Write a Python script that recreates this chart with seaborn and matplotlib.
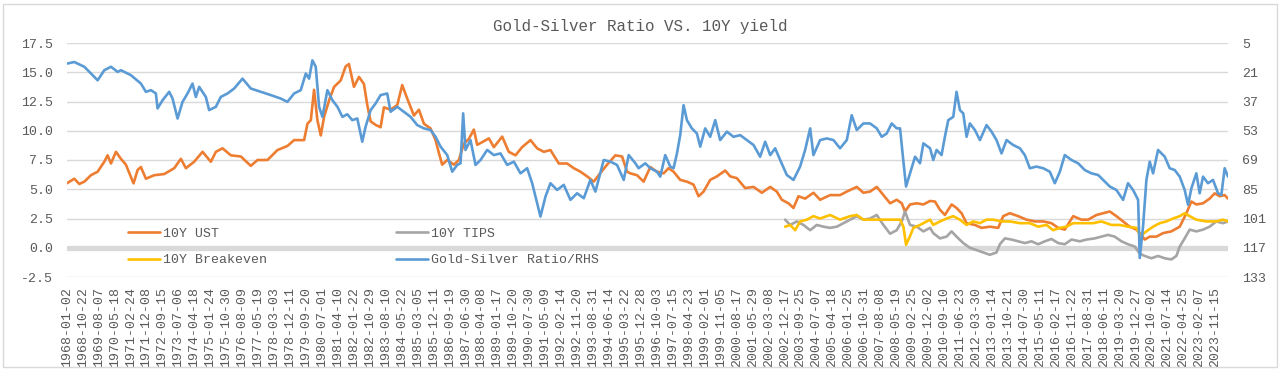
import numpy as np
import matplotlib
matplotlib.use("Agg")
import matplotlib.pyplot as plt
from matplotlib.lines import Line2D
from matplotlib.patches import Rectangle
from matplotlib.ticker import FormatStrFormatter
import seaborn as sns

# =====================================================================
# Data (x = trading-day row number)
# =====================================================================
date_labels = [
    "1968-01-02", "1968-10-22", "1969-08-07", "1970-05-18", "1971-02-24", "1971-12-08",
    "1972-09-15", "1973-07-06", "1974-04-18", "1975-01-24", "1975-10-30", "1976-08-09",
    "1977-05-19", "1978-03-03", "1978-12-11", "1979-09-20", "1980-07-01", "1981-04-10",
    "1982-01-22", "1982-10-29", "1983-08-10", "1984-05-22", "1985-03-05", "1985-12-11",
    "1986-09-19", "1987-06-30", "1988-04-08", "1989-01-17", "1989-10-20", "1990-07-30",
    "1991-05-09", "1992-02-14", "1992-11-20", "1993-08-31", "1994-06-14", "1995-03-22",
    "1995-12-28", "1996-10-03", "1997-07-15", "1998-04-23", "1999-02-01", "1999-11-05",
    "2000-08-17", "2001-05-29", "2002-03-08", "2002-12-17", "2003-09-25", "2004-07-07",
    "2005-04-18", "2006-01-25", "2006-10-31", "2007-08-08", "2008-05-19", "2009-02-25",
    "2009-12-02", "2010-09-10", "2011-06-23", "2012-03-30", "2013-01-14", "2013-10-21",
    "2014-07-30", "2015-05-11", "2016-02-17", "2016-11-22", "2017-08-31", "2018-06-11",
    "2019-03-20", "2019-12-27", "2020-10-02", "2021-07-14", "2022-04-25", "2023-02-07",
    "2023-11-15",
]
label_step = 200  # one date label every 200 rows

ust_row = [0, 95, 158, 221, 304, 388, 471, 513, 555, 617, 680, 742, 784, 838, 889, 930, 993,
           1097, 1223, 1348, 1431, 1494, 1598, 1703, 1807, 1870, 1953, 2058, 2183, 2308, 2392,
           2517, 2642, 2767, 2851, 2976, 3018, 3060, 3101, 3143, 3185, 3227, 3289, 3352, 3435,
           3497, 3538, 3601, 3664, 3726, 3768, 3810, 3872, 3935, 3977, 4060, 4144, 4206, 4269,
           4353, 4415, 4478, 4561, 4624, 4666, 4707, 4770, 4854, 4916, 4979, 5041, 5104, 5146,
           5229, 5292, 5355, 5459, 5542, 5626, 5709, 5814, 5897, 5981, 6064, 6169, 6273, 6357,
           6440, 6524, 6607, 6691, 6774, 6878, 6962, 7025, 7065, 7149, 7232, 7316, 7399, 7483,
           7545, 7608, 7691, 7775, 7858, 7921, 7984, 8067, 8151, 8255, 8318, 8401, 8505, 8610,
           8714, 8819, 8902, 8965, 9048, 9111, 9173, 9257, 9361, 9445, 9570, 9695, 9779, 9904,
           9988, 10071, 10155, 10238, 10322, 10405, 10468, 10509, 10572, 10656, 10739, 10823,
           10884, 10947, 11009, 11093, 11155, 11218, 11281, 11385, 11468, 11573, 11677, 11740,
           11823, 11928, 12032, 12136, 12241, 12345, 12429, 12512, 12617, 12721, 12804, 12909,
           12992, 13076, 13159, 13243, 13326, 13410, 13472, 13514, 13577, 13660, 13744, 13848,
           13953, 14036, 14099, 14161, 14245, 14328, 14391, 14454, 14516, 14558]
ust_val = [5.5, 5.9, 5.45, 5.65, 6.2, 6.5, 7.35, 7.9, 7.2, 8.2, 7.6, 7.1, 6.4, 5.5, 6.65, 6.9, 5.9,
           6.2, 6.3, 6.8, 7.6, 6.8, 7.35, 8.2, 7.35, 8.2, 8.5, 7.9, 7.8, 7.0, 7.5,
           7.5, 8.35, 8.7, 9.2, 9.2, 10.6, 10.9, 13.5, 10.9, 9.6, 11.2, 12.6, 13.75, 14.3,
           15.5, 15.7, 13.75, 14.6, 14.0, 12.2, 10.8, 10.5, 10.3, 12.0, 11.8, 12.2, 13.9, 12.75,
           11.3, 11.8, 10.6, 10.2, 9.2, 8.1, 7.1, 7.5, 7.1, 7.5, 8.9, 9.3, 10.1, 8.8,
           9.1, 9.35, 8.6, 9.5, 8.2, 7.9, 8.6, 9.2, 8.5, 8.2, 8.35, 7.2, 7.2, 6.8,
           6.5, 6.1, 5.65, 6.4, 7.1, 7.9, 7.8, 6.5, 6.36, 6.2, 5.65, 6.9, 6.5, 6.36,
           6.8, 6.5, 5.8, 5.65, 5.4, 4.4, 4.8, 5.8, 6.1, 6.6, 6.1, 5.95, 5.1, 5.2,
           4.7, 5.2, 4.8, 4.1, 3.8, 3.4, 4.4, 4.2, 4.7, 4.1, 4.5, 4.5, 4.8, 5.2,
           4.7, 4.8, 5.2, 4.5, 3.8, 4.1, 3.8, 3.1, 3.7, 3.8, 3.7, 4.0,
           3.95, 3.25, 2.8, 3.7, 3.4, 2.95, 2.1, 1.95, 1.7, 1.8, 1.7, 2.7,
           2.95, 2.7, 2.4, 2.25, 2.25, 2.1, 1.7, 1.55, 2.7, 2.4, 2.4, 2.8,
           2.95, 3.1, 2.7, 2.25, 1.8, 1.55, 1.1, 0.7, 0.95, 0.95, 1.25, 1.4,
           1.8, 2.95, 3.95, 3.7, 3.8, 4.2, 4.65, 4.4, 4.5, 4.2]

tips_row = [9006, 9069, 9153, 9236, 9320, 9403, 9487, 9570, 9654, 9737, 9821, 9904, 9988, 10071,
            10155, 10238, 10322, 10405, 10468, 10509, 10572, 10656, 10739, 10823, 10863, 10947,
            11030, 11093, 11155, 11239, 11322, 11406, 11489, 11573, 11656, 11698, 11761, 11844,
            11928, 12011, 12095, 12178, 12262, 12345, 12429, 12512, 12596, 12700, 12784, 12888,
            12971, 13055, 13138, 13222, 13305, 13389, 13452, 13514, 13598, 13681, 13765, 13848,
            13911, 13953, 14015, 14078, 14161, 14245, 14328, 14412, 14495, 14558]
tips_val = [2.4, 1.95, 2.25, 1.95, 1.5, 1.95, 1.8, 1.7, 1.8, 2.1, 2.4, 2.7, 2.4, 2.5,
            2.8, 1.95, 1.2, 1.5, 2.25, 3.1, 1.95, 1.8, 1.4, 1.7, 1.25, 0.8,
            0.95, 1.4, 0.95, 0.4, 0.0, -0.2, -0.4, -0.6, -0.4, 0.3, 0.8, 0.7,
            0.55, 0.4, 0.55, 0.3, 0.55, 0.75, 0.4, 0.3, 0.7, 0.55, 0.7, 0.8,
            0.95, 1.1, 0.95, 0.55, 0.3, 0.1, -0.5, -0.7, -0.9, -0.7, -0.9, -1.0,
            -0.7, 0.1, 0.8, 1.55, 1.4, 1.55, 1.8, 2.25, 2.1, 2.25]

bei_row = [9006, 9069, 9132, 9194, 9278, 9361, 9445, 9570, 9695, 9821, 9904, 9988, 10155, 10322,
           10447, 10489, 10522, 10572, 10614, 10697, 10823, 10863, 10947, 11030, 11114, 11197,
           11281, 11364, 11448, 11531, 11615, 11719, 11823, 11949, 12074, 12178, 12283, 12366,
           12450, 12533, 12617, 12742, 12867, 12971, 13097, 13201, 13305, 13410, 13460, 13535,
           13619, 13702, 13786, 13869, 13953, 14015, 14078, 14161, 14287, 14412, 14495, 14558]
bei_val = [1.8, 1.95, 1.5, 2.25, 2.4, 2.7, 2.5, 2.8, 2.4, 2.7, 2.8, 2.4, 2.4, 2.4,
           2.4, 1.8, 0.25, 1.0, 1.7, 1.95, 2.4, 1.95, 2.25, 2.5, 2.7, 2.4,
           1.95, 2.25, 2.1, 2.4, 2.4, 2.25, 2.25, 2.1, 2.1, 1.8, 1.95, 1.5,
           1.7, 1.8, 2.1, 2.1, 2.1, 2.25, 1.95, 1.95, 1.8, 1.7, 1.0, 1.4,
           1.8, 2.1, 2.25, 2.5, 2.7, 2.95, 2.7, 2.4, 2.25, 2.25, 2.4, 2.25]

gsr_row = [0, 95, 221, 304, 388, 471, 555, 638, 680, 805, 930, 993, 1056, 1118, 1139, 1202, 1285,
           1327, 1390, 1452, 1515, 1577, 1619, 1661, 1744, 1786, 1870, 1932, 2016, 2099, 2204,
           2308, 2433, 2559, 2684, 2767, 2851, 2934, 2997, 3039, 3080, 3122, 3164, 3206, 3268,
           3331, 3394, 3456, 3518, 3580, 3643, 3705, 3747, 3810, 3872, 3935, 4018, 4060, 4144,
           4227, 4311, 4394, 4478, 4561, 4624, 4687, 4770, 4833, 4895, 4937, 4970, 4999, 5062,
           5125, 5188, 5271, 5355, 5438, 5522, 5605, 5689, 5772, 5835, 5897, 5939, 6002, 6064,
           6148, 6231, 6315, 6398, 6482, 6565, 6628, 6732, 6816, 6899, 6983, 7045, 7129, 7169,
           7253, 7316, 7399, 7441, 7503, 7566, 7608, 7650, 7691, 7733, 7775, 7837, 7900, 7942,
           8004, 8067, 8130, 8192, 8276, 8359, 8443, 8526, 8610, 8693, 8756, 8819, 8881, 8944,
           9027, 9111, 9194, 9257, 9320, 9361, 9445, 9528, 9612, 9695, 9779, 9841, 9904, 9988,
           10071, 10155, 10217, 10280, 10342, 10405, 10447, 10489, 10522, 10572, 10635, 10697,
           10739, 10823, 10863, 10905, 10967, 11009, 11051, 11114, 11155, 11197, 11239, 11281,
           11322, 11385, 11448, 11531, 11594, 11656, 11719, 11782, 11865, 11949, 12011, 12074,
           12157, 12241, 12324, 12387, 12450, 12512, 12596, 12679, 12763, 12846, 12930, 12992,
           13076, 13159, 13243, 13305, 13368, 13431, 13452, 13493, 13535, 13577, 13619, 13681,
           13765, 13827, 13890, 13953, 14015, 14057, 14099, 14161, 14203, 14245, 14307, 14370,
           14433, 14475, 14516, 14558]
gsr_val = [16.3, 15.4, 18, 21.7, 25.4, 19.9, 18, 20.8, 19.9, 22.6, 27.2, 31.7, 30.8, 32.6, 40.8, 36.3, 31.7,
           35.4, 46.3, 37.2, 32.6, 27.2, 34.5, 29, 34.5, 41.7, 39.9, 34.5, 32.6, 29.9, 24.5,
           29.9, 31.7, 33.5, 35.4, 37.2, 32.6, 30.8, 21.7, 24.5, 14.5, 18, 39.9, 45.4, 30.8,
           36.3, 39.9, 45.4, 44, 47.2, 46.3, 59, 50.8, 41.7, 38.1, 33.5, 32.6, 42.6, 39.9,
           42.6, 45.4, 49.9, 51.7, 52.6, 56.3, 61.7, 66.3, 75.4, 71.7, 70.8, 43.5, 63.5, 58.1,
           71.7, 69, 63.5, 66.3, 65.4, 71.7, 69.9, 76.3, 73.5, 81.7, 92.6, 99.9, 89, 81.7,
           85.4, 82.6, 90.8, 87.2, 89.9, 79.9, 86.3, 69, 69.9, 71.7, 79.9, 66.3, 70.8, 73.5,
           70.8, 73.5, 75.4, 78.1, 66.3, 72.6, 73.5, 65.4, 55.4, 39, 47.2, 51.7, 54.5, 61.7,
           51.7, 56.3, 47.2, 58.1, 53.5, 56.3, 55.4, 58.1, 60.8, 67.2, 59, 66.3, 62.6, 69,
           77.2, 79.9, 72.6, 63.5, 51.7, 66.3, 58.1, 57.2, 58.1, 62.6, 58.1, 44.5, 52.6, 49,
           49, 51.7, 56.3, 54.5, 49, 51.7, 51.7, 69.9, 83.5, 76.3, 67.2, 70.8,
           59.9, 62.6, 69, 63.5, 66.3, 56.3, 47.2, 45.4, 31.7, 41.7, 43.5, 56.3,
           49, 52.6, 58.1, 49.9, 53.5, 58.1, 65.4, 58.1, 60.8, 62.6, 66.3, 73.5,
           72.6, 73.5, 75.4, 81.7, 75.4, 66.3, 69, 70.8, 74.5, 76.3, 77.2, 79.9,
           83.5, 85.4, 90.8, 81.7, 85.4, 90.8, 122.6, 105.4, 79.9, 69.9, 76.3, 63.5,
           67.2, 73.5, 74.5, 78.1, 85.4, 93.5, 84.5, 76.3, 87.2, 78.1, 81.7, 79.9,
           87.2, 88.1, 73.5, 78.1]

# =====================================================================
# Style
# =====================================================================
sns.set_style("white")
plt.rcParams['font.family'] = ['Liberation Mono', 'DejaVu Sans']

text_grey = '#595959'
grid_grey = '#d9d9d9'
c_ust, c_tips, c_bei, c_gsr = '#ED7D31', '#A5A5A5', '#FFC000', '#5B9BD5'
lw = 1.9

W, H = 1280, 371
fig = plt.figure(figsize=(W / 100, H / 100), dpi=100)
fig.patch.set_facecolor('white')
ax = fig.add_axes([66.7 / W, 1 - 277 / H, (1228 - 66.7) / W, 234 / H])
ax2 = ax.twinx()

# =====================================================================
# Lines
# =====================================================================
sns.lineplot(x=ust_row, y=ust_val, ax=ax, color=c_ust, lw=lw, estimator=None, sort=False, zorder=3)
sns.lineplot(x=tips_row, y=tips_val, ax=ax, color=c_tips, lw=lw, estimator=None, sort=False, zorder=3)
sns.lineplot(x=bei_row, y=bei_val, ax=ax, color=c_bei, lw=lw, estimator=None, sort=False, zorder=4)
sns.lineplot(x=gsr_row, y=gsr_val, ax=ax2, color=c_gsr, lw=lw, estimator=None, sort=False)

# =====================================================================
# Axes
# =====================================================================
ax.set_xlim(0, gsr_row[-1])
ax.set_ylim(-2.5, 17.5)
ax.set_yticks(np.arange(-2.5, 17.6, 2.5))
ax.yaxis.set_major_formatter(FormatStrFormatter('%.1f'))
ax.grid(axis='y', color=grid_grey, lw=1)
ax.set_axisbelow(True)
ax.axhline(0, color=grid_grey, lw=3.8, zorder=1)

ax.set_xticks(np.arange(len(date_labels)) * label_step)
ax.set_xticklabels(date_labels, rotation=90)

ax2.set_ylim(133, 5)
ax2.set_yticks(np.arange(5, 134, 16))
ax2.grid(False)

for a in (ax, ax2):
    for s in a.spines.values():
        s.set_visible(False)
    a.set_xlabel('')
    a.set_ylabel('')

ax.tick_params(axis='y', length=0, pad=10, labelsize=9.5, labelcolor=text_grey)
ax.tick_params(axis='x', length=0, pad=7, labelsize=9.5, labelcolor=text_grey)
ax2.tick_params(axis='y', length=0, pad=10, labelsize=9.5, labelcolor=text_grey)

# =====================================================================
# Title, legend, frame
# =====================================================================
fig.text(0.5, 1 - 27 / H, 'Gold-Silver Ratio VS. 10Y yield', ha='center', va='center',
         fontsize=11.4, color=text_grey)

handles = [Line2D([], [], color=c_ust, lw=lw), Line2D([], [], color=c_bei, lw=lw),
           Line2D([], [], color=c_tips, lw=lw), Line2D([], [], color=c_gsr, lw=lw)]
labels = ['10Y UST', '10Y Breakeven', '10Y TIPS', 'Gold-Silver Ratio/RHS']
leg = fig.legend(handles, labels, ncol=2, loc='center left', bbox_to_anchor=(128 / W, 1 - 247 / H),
                 frameon=False, handlelength=2.4, handletextpad=0.25, columnspacing=9.8,
                 labelspacing=1.1, borderpad=0, borderaxespad=0, fontsize=9.5)
for t in leg.get_texts():
    t.set_color(text_grey)

fig.patches.append(Rectangle((3 / W, 4 / H), 1274 / W, 363 / H, transform=fig.transFigure,
                             fill=False, edgecolor=grid_grey, lw=1))

fig.savefig('out.png', dpi=100)
